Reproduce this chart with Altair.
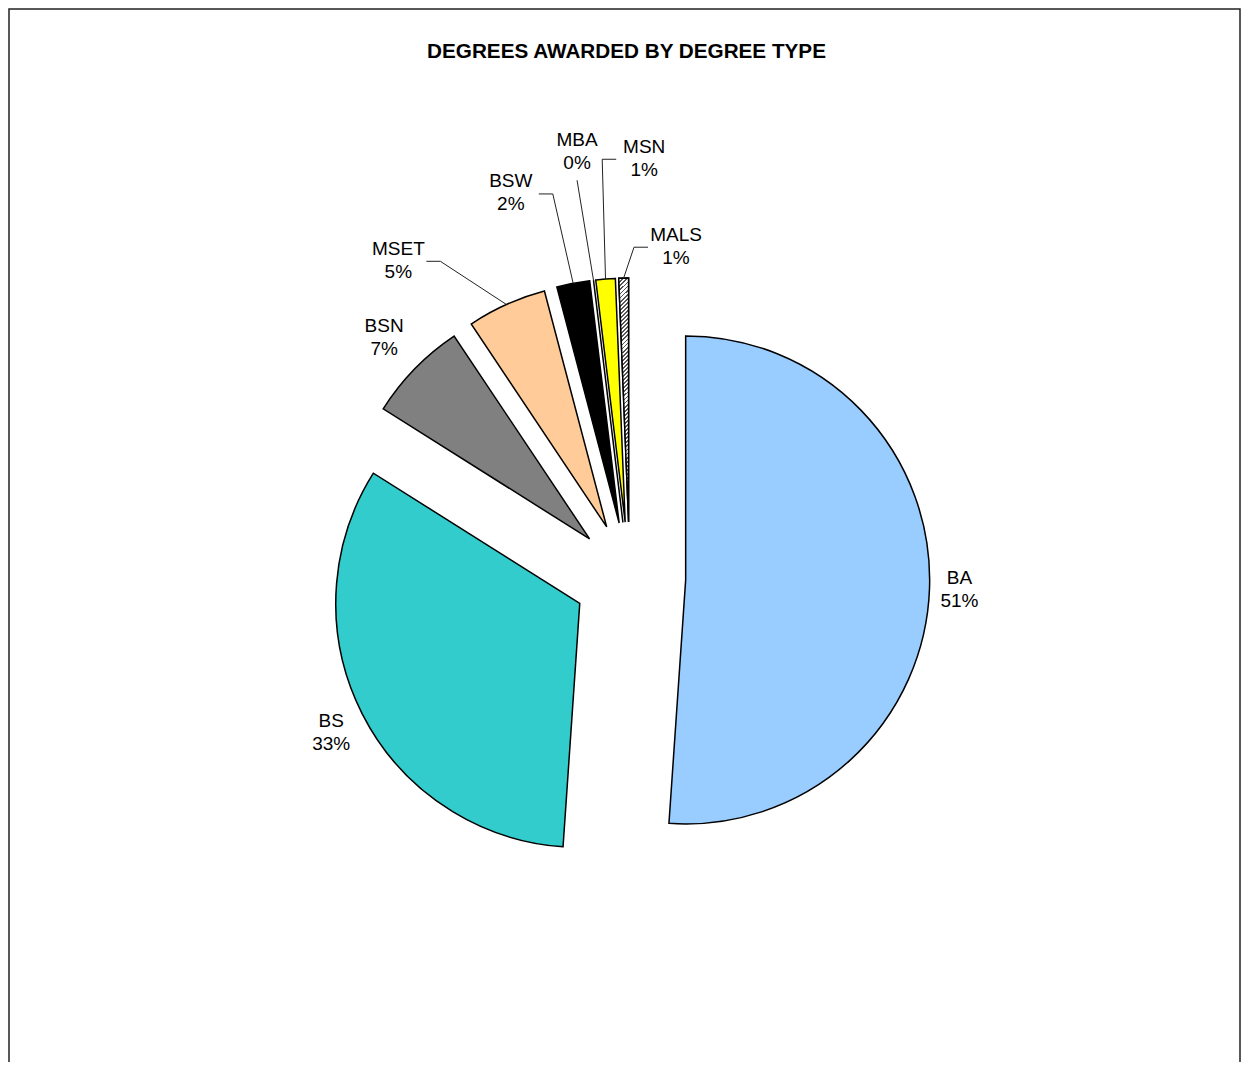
import math
import altair as alt
import pandas as pd

# ---- data ----
TITLE = "DEGREES AWARDED BY DEGREE TYPE"
CATEGORIES = ["BA", "BS", "BSN", "MSET", "BSW", "MBA", "MSN", "MALS"]
DEGREES = [398, 256, 52, 41, 17, 0, 10, 5]
SLICE_COLORS = ["#99CCFF", "#33CCCC", "#808080", "#FFCC99", "#000000", "#9999FF", "#FFFF00", "#FFFFFF"]

# ---- label layout (style, not data) ----
LABEL_NUDGE_DEG = [0.1, -0.4, 0.2, -11.8, -6.3, -0.1, 6.6, 9.1]
LABEL_RADIUS = [330, 336, 344, 393, 403, 430, 420, 335]
HAS_LEADER = [False, False, False, True, True, True, True, True]

W, H = 1233, 1054
CX, CY = 621.7, 570.0
R = 244
EXPLODE = 56
FONT = "Liberation Sans"
LINE_H = 23
TOTAL = sum(DEGREES)

df = pd.DataFrame({
    "cat": CATEGORIES,
    "value": DEGREES,
    "order": list(range(len(CATEGORIES))),
    "nudge": LABEL_NUDGE_DEG,
    "lr": LABEL_RADIUS,
    "leader": HAS_LEADER,
})

base = (
    alt.Chart(df)
    .transform_window(cum1="sum(value)", sort=[alt.SortField(field="order", order="ascending")], frame=[None, 0])
    .transform_joinaggregate(total="sum(value)")
    .transform_calculate(cum0="datum.cum1 - datum.value")
    .transform_calculate(mid="(datum.cum0 + datum.value / 2) / datum.total * 2 * PI")
    .transform_calculate(ex=f"{CX} + {EXPLODE} * sin(datum.mid)")
    .transform_calculate(ey=f"{CY} - {EXPLODE} * cos(datum.mid)")
    .transform_calculate(px=f"datum.ex + {R} * sin(datum.mid)")
    .transform_calculate(py=f"datum.ey - {R} * cos(datum.mid)")
    .transform_calculate(la="datum.mid + datum.nudge * PI / 180")
    .transform_calculate(lx=f"{CX} + datum.lr * sin(datum.la)")
    .transform_calculate(ly=f"{CY} - datum.lr * cos(datum.la)")
    .transform_calculate(txt="datum.cat + '|' + format(datum.value / datum.total, '.0%')")
)

theta_scale = alt.Scale(domain=[0, TOTAL], range=[0, 2 * math.pi])

arcs = base.mark_arc(radius=R, stroke="black", strokeWidth=1.5).encode(
    theta=alt.Theta("cum0:Q", scale=theta_scale, stack=None),
    theta2="cum1:Q",
    x=alt.X("ex:Q", scale=None),
    y=alt.Y("ey:Q", scale=None),
    fill=alt.Fill("cat:N", scale=alt.Scale(domain=CATEGORIES, range=SLICE_COLORS), legend=None),
)

# hatch pattern for MALS slice (striped gradient)
stops = []
N = 60
for i in range(N):
    a = i / N
    b = (i + 0.45) / N
    c = (i + 1) / N
    stops += [
        alt.GradientStop(offset=a, color="#555555"),
        alt.GradientStop(offset=b, color="#555555"),
        alt.GradientStop(offset=b, color="#ffffff"),
        alt.GradientStop(offset=c, color="#ffffff"),
    ]
hatch = alt.LinearGradient(gradient="linear", stops=stops, x1=0, y1=0, x2=0.04, y2=1)

hatch_layer = base.transform_filter("datum.cat == 'MALS'").mark_arc(
    radius=R, stroke="black", strokeWidth=1.5, fill=hatch
).encode(
    theta=alt.Theta("cum0:Q", scale=theta_scale, stack=None),
    theta2="cum1:Q",
    x=alt.X("ex:Q", scale=None),
    y=alt.Y("ey:Q", scale=None),
)

lead = (
    base.transform_filter("datum.leader")
    .transform_calculate(side="datum.px > datum.lx ? 1 : -1")
    .transform_calculate(bottom="abs(datum.px - datum.lx) < 22")
    .transform_calculate(ax="datum.bottom ? datum.lx : datum.lx + datum.side * 28")
    .transform_calculate(ay="datum.bottom ? datum.ly + 29 : datum.ly + 1")
    .transform_calculate(bx="datum.bottom ? datum.lx : datum.lx + datum.side * 42")
    .transform_calculate(by="datum.ay")
)
lead1 = lead.mark_rule(color="#222222", strokeWidth=1).encode(
    x=alt.X("ax:Q", scale=None), y=alt.Y("ay:Q", scale=None), x2="bx:Q", y2="by:Q"
)
lead2 = lead.mark_rule(color="#222222", strokeWidth=1).encode(
    x=alt.X("bx:Q", scale=None), y=alt.Y("by:Q", scale=None), x2="px:Q", y2="py:Q"
)

labels = base.mark_text(
    font=FONT, fontSize=19, lineBreak="|", lineHeight=LINE_H, align="center", baseline="middle",
    color="black", dy=-LINE_H / 2
).encode(
    x=alt.X("lx:Q", scale=None),
    y=alt.Y("ly:Q", scale=None),
    text="txt:N",
)

title = alt.Chart(pd.DataFrame({"t": [TITLE]})).mark_text(
    font=FONT, fontSize=20.7, fontWeight="bold", align="center", baseline="middle", color="black"
).encode(x=alt.value(618.5), y=alt.value(44), text="t:N")

border = alt.Chart(pd.DataFrame({"a": [0]})).mark_rect(
    filled=False, stroke="#222222", strokeWidth=1.5
).encode(x=alt.value(1), x2=alt.value(W - 1), y=alt.value(1), y2=alt.value(H + 40))

chart = alt.layer(border, arcs, hatch_layer, lead1, lead2, labels, title).properties(
    width=W, height=H, padding=0, autosize=alt.AutoSizeParams(type="none")
).configure_view(stroke="transparent")

chart.save("out.html", embed_options={"renderer": "svg", "actions": False})
